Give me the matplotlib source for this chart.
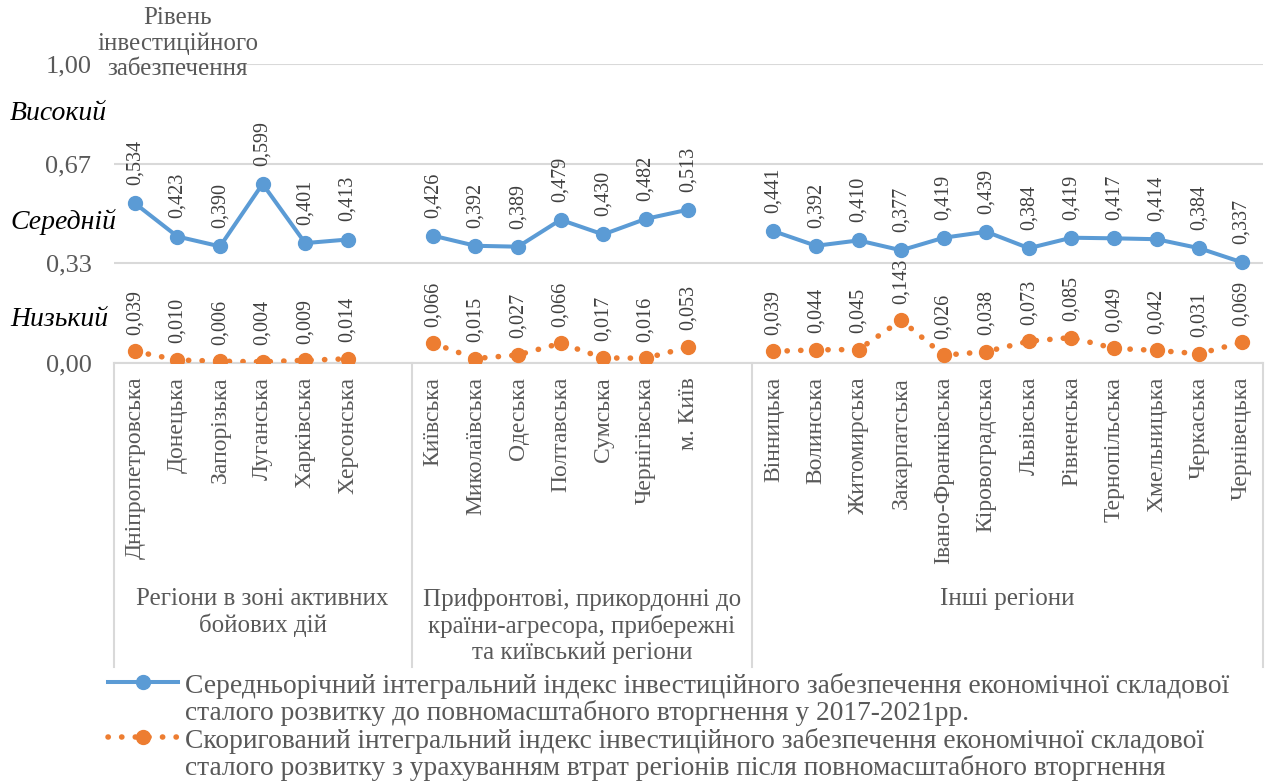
import matplotlib
matplotlib.use("Agg")
import matplotlib.pyplot as plt
import matplotlib.transforms as transforms
from matplotlib.lines import Line2D
import numpy as np

SERIF = ['Liberation Serif', 'DejaVu Serif']
plt.rcParams['font.family'] = SERIF

# groups of regions
groups = ["Регіони в зоні активних\nбойових дій",
          "Прифронтові, прикордонні до\nкраїни-агресора, прибережні\nта київський регіони",
          "Інші регіони"]
regions = [
    ["Дніпропетровська", "Донецька", "Запорізька", "Луганська", "Харківська", "Херсонська"],
    ["Київська", "Миколаївська", "Одеська", "Полтавська", "Сумська", "Чернігівська", "м. Київ"],
    ["Вінницька", "Волинська", "Житомирська", "Закарпатська", "Івано-Франківська", "Кіровоградська",
     "Львівська", "Рівненська", "Тернопільська", "Хмельницька", "Черкаська", "Чернівецька"],
]
before = [
    [0.534, 0.423, 0.390, 0.599, 0.401, 0.413],
    [0.426, 0.392, 0.389, 0.479, 0.430, 0.482, 0.513],
    [0.441, 0.392, 0.410, 0.377, 0.419, 0.439, 0.384, 0.419, 0.417, 0.414, 0.384, 0.337],
]
after = [
    [0.039, 0.010, 0.006, 0.004, 0.009, 0.014],
    [0.066, 0.015, 0.027, 0.066, 0.017, 0.016, 0.053],
    [0.039, 0.044, 0.045, 0.143, 0.026, 0.038, 0.073, 0.085, 0.049, 0.042, 0.031, 0.069],
]
yticks = [0, 1 / 3, 2 / 3, 1]
ytick_labels = ["0,00", "0,33", "0,67", "1,00"]
levels = ["Високий", "Середній", "Низький"]
legend_lines = [
    ["Середньорічний інтегральний індекс інвестиційного забезпечення економічної складової",
     "сталого розвитку до повномасштабного вторгнення у 2017-2021рр."],
    ["Скоригований інтегральний індекс інвестиційного забезпечення економічної складової",
     "сталого розвитку з урахуванням втрат регіонів після повномасштабного вторгнення"],
]

BLUE = "#5B9BD5"
ORANGE = "#ED7D31"
GRID = "#D9D9D9"
GRAY = "#595959"
W, H = 1266, 783

fig = plt.figure(figsize=(W / 100, H / 100), dpi=100)
ax = fig.add_axes([113.6 / W, 1 - 363 / H, (1263 - 113.6) / W, (363 - 64) / H])

# one empty slot after each group (except last)
positions = []
bounds = []
start = 0
for g, regs in enumerate(regions):
    pos = list(range(start, start + len(regs)))
    positions.append(pos)
    end = start + len(regs) + (1 if g < len(regions) - 1 else 0)
    bounds.append((start - 0.5, end - 0.5))
    start = end
n_slots = start

dot_style = (0, (0.05, 2.4))
for g in range(len(regions)):
    x = positions[g]
    ax.plot(x, before[g], color=BLUE, lw=2.9, marker='o', ms=10, zorder=3)
    ax.plot(x, after[g], color=ORANGE, lw=4, linestyle=dot_style, dash_capstyle='round',
            marker='o', ms=10, zorder=3)
    for xi, v in zip(x, before[g]):
        ax.annotate(f"{v:.3f}".replace('.', ','), (xi, v), xytext=(0, 13), textcoords='offset points',
                    rotation=90, ha='center', va='bottom', fontsize=14.5, color="#404040")
    for xi, v in zip(x, after[g]):
        ax.annotate(f"{v:.3f}".replace('.', ','), (xi, v), xytext=(0, 12), textcoords='offset points',
                    rotation=90, ha='center', va='bottom', fontsize=14.5, color="#404040")

ax.set_xlim(-0.5, n_slots - 0.5)
ax.set_ylim(0, 1)
ax.set_yticks(yticks)
ax.set_yticklabels(ytick_labels, fontsize=19, color=GRAY)
ax.tick_params(axis='y', length=0, pad=16)
ax.grid(axis='y', color=GRID, lw=1.5)
ax.set_axisbelow(True)
for s in ['top', 'right', 'left']:
    ax.spines[s].set_visible(False)
ax.spines['bottom'].set_color(GRID)
ax.spines['bottom'].set_linewidth(1.5)

all_pos = [p for pos in positions for p in pos]
all_names = [r for regs in regions for r in regs]
ax.set_xticks(all_pos)
ax.set_xticklabels(all_names, rotation=90, fontsize=17, color=GRAY, va='top', ha='center')
ax.tick_params(axis='x', length=0, pad=10)

# category group frame
trans = transforms.blended_transform_factory(ax.transData, ax.transAxes)
bottom = (363 - 667) / (363 - 64)
edges = [bounds[0][0]] + [b[1] for b in bounds]
for e in edges:
    ax.plot([e, e], [0, bottom], transform=trans, color=GRID, lw=1.5, clip_on=False)
label_y = (363 - 588) / (363 - 64)
for (a, b), name in zip(bounds, groups):
    ax.text((a + b) / 2, label_y, name, transform=trans, ha='center', va='top',
            fontsize=18, color=GRAY, linespacing=1.2, family=SERIF)

# level labels and title
for name, ypx in zip(levels, [114, 222, 320]):
    fig.text(10 / W, 1 - ypx / H, name, ha='left', va='center', fontsize=20,
             style='italic', color='black', family=SERIF)
fig.text(178 / W, 1 - 7 / H, "Рівень\nінвестиційного\nзабезпечення", ha='center', va='top',
         fontsize=18, color=GRAY, linespacing=1.2, family=SERIF)

# legend
for (ypx, color, ls, lw), lines in zip([(682, BLUE, '-', 2.9), (737, ORANGE, dot_style, 4)], legend_lines):
    fig.add_artist(Line2D([108 / W, 178 / W], [1 - ypx / H, 1 - ypx / H], color=color, lw=lw,
                          linestyle=ls, dash_capstyle='round', transform=fig.transFigure))
    fig.add_artist(Line2D([143 / W], [1 - ypx / H], color=color, marker='o', ms=10,
                          transform=fig.transFigure))
    for k, line in enumerate(lines):
        fig.text(185 / W, 1 - (ypx + 4 + 27 * k) / H, line, ha='left', va='center',
                 fontsize=19.8, color=GRAY, family=SERIF)

fig.savefig("out.png", dpi=100)
